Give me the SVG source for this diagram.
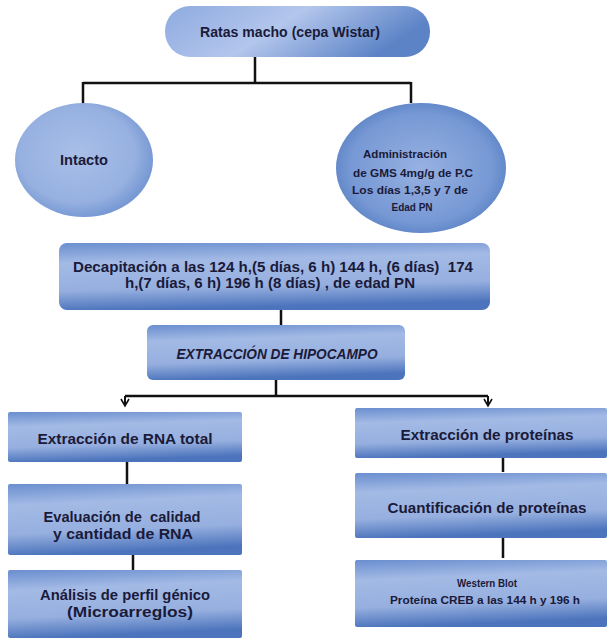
<svg xmlns="http://www.w3.org/2000/svg" width="610" height="638" viewBox="0 0 610 638">
<defs>
<linearGradient id="box" x1="0" y1="0" x2="0.15" y2="1">
<stop offset="0" stop-color="#6a8ecf"/>
<stop offset="0.3" stop-color="#a3bae5"/>
<stop offset="0.7" stop-color="#96afdf"/>
<stop offset="1" stop-color="#4c74bc"/>
</linearGradient>
<linearGradient id="pill" x1="0" y1="0" x2="1" y2="0.3">
<stop offset="0" stop-color="#8eaae0"/>
<stop offset="0.5" stop-color="#b3c6ec"/>
<stop offset="1" stop-color="#5c83c6"/>
</linearGradient>
<radialGradient id="ell1" cx="0.45" cy="0.45" r="0.6">
<stop offset="0" stop-color="#a9bfe9"/>
<stop offset="0.7" stop-color="#96b0e0"/>
<stop offset="1" stop-color="#6d91d0"/>
</radialGradient>
<radialGradient id="ell2" cx="0.5" cy="0.5" r="0.6">
<stop offset="0" stop-color="#97b1e2"/>
<stop offset="0.7" stop-color="#7698d4"/>
<stop offset="1" stop-color="#4d76bd"/>
</radialGradient>
<style>
.t{font-family:"Liberation Sans","DejaVu Sans",sans-serif;font-weight:bold;fill:#1a1a3a;text-anchor:middle;font-size:14px;white-space:pre;}
.s{font-size:10px;}
.i{font-style:italic;}
.c{fill:none;stroke:#111;stroke-width:2.5;}
.a{fill:none;stroke:#111;stroke-width:1.6;}
</style>
</defs>
<g id="connectors">
<path class="c" d="M255,57 V83 M83,83 H411 M83,82 V105 M411,82 V103"/>
<path class="c" d="M281,310 V326"/>
<path class="c" d="M276,380 V396 M125,396 H488"/>
<path class="c" d="M125,396 V404" style="stroke-width:2"/>
<path class="c" d="M488,396 V404" style="stroke-width:2"/>
<path class="a" d="M121,399 L125,406 L129,399"/>
<path class="a" d="M484,399 L488,406 L492,399"/>
<path class="c" d="M127,462 V484 M133,555 V570"/>
<path class="c" d="M503,458 V472 M503,538 V558"/>
</g>
<g id="n-ratas">
<rect x="165" y="6" width="265" height="51" rx="25" fill="url(#pill)"/>
<text class="t" x="290" y="37" textLength="180" lengthAdjust="spacingAndGlyphs">Ratas macho (cepa Wistar)</text>
</g>
<g id="n-intacto">
<ellipse cx="84" cy="160" rx="69" ry="57" fill="url(#ell1)"/>
<text class="t" x="84" y="165" textLength="48" lengthAdjust="spacingAndGlyphs">Intacto</text>
</g>
<g id="n-gms">
<ellipse cx="421" cy="168" rx="85" ry="65" fill="url(#ell2)"/>
<text class="t s" x="405" y="158" textLength="84" lengthAdjust="spacingAndGlyphs">Administración</text>
<text class="t s" x="413" y="177" textLength="120" lengthAdjust="spacingAndGlyphs">de GMS 4mg/g de P.C</text>
<text class="t s" x="410" y="194" textLength="116" lengthAdjust="spacingAndGlyphs">Los días 1,3,5 y 7 de</text>
<text class="t s" x="412" y="211" textLength="41" lengthAdjust="spacingAndGlyphs">Edad PN</text>
</g>
<g id="n-decap">
<rect x="59" y="243" width="431" height="67" rx="8" fill="url(#box)"/>
<text class="t" x="273" y="272" textLength="400" lengthAdjust="spacingAndGlyphs">Decapitación a las 124 h,(5 días, 6 h) 144 h, (6 días)  174</text>
<text class="t" x="270" y="288" textLength="290" lengthAdjust="spacingAndGlyphs">h,(7 días, 6 h) 196 h (8 días) , de edad PN</text>
</g>
<g id="n-hipocampo">
<rect x="147" y="325" width="258" height="55" rx="6" fill="url(#box)"/>
<text class="t i" x="277" y="359" textLength="201" lengthAdjust="spacingAndGlyphs">EXTRACCIÓN DE HIPOCAMPO</text>
</g>
<g id="n-rna">
<rect x="8" y="412" width="234" height="50" rx="2" fill="url(#box)"/>
<text class="t" x="125" y="444" textLength="175" lengthAdjust="spacingAndGlyphs">Extracción de RNA total</text>
</g>
<g id="n-eval">
<rect x="8" y="484" width="234" height="71" rx="2" fill="url(#box)"/>
<text class="t" x="122" y="522" textLength="157" lengthAdjust="spacingAndGlyphs">Evaluación de  calidad</text>
<text class="t" x="123" y="539" textLength="140" lengthAdjust="spacingAndGlyphs">y cantidad de RNA</text>
</g>
<g id="n-perfil">
<rect x="8" y="570" width="234" height="68" rx="2" fill="url(#box)"/>
<text class="t" x="125" y="600" textLength="170" lengthAdjust="spacingAndGlyphs">Análisis de perfil génico</text>
<text class="t" x="130" y="617" textLength="126" lengthAdjust="spacingAndGlyphs">(Microarreglos)</text>
</g>
<g id="n-prot">
<rect x="355" y="408" width="252" height="50" rx="2" fill="url(#box)"/>
<text class="t" x="487" y="440" textLength="173" lengthAdjust="spacingAndGlyphs">Extracción de proteínas</text>
</g>
<g id="n-cuant">
<rect x="355" y="473" width="252" height="65" rx="2" fill="url(#box)"/>
<text class="t" x="487" y="513" textLength="199" lengthAdjust="spacingAndGlyphs">Cuantificación de proteínas</text>
</g>
<g id="n-western">
<rect x="355" y="560" width="252" height="67" rx="2" fill="url(#box)"/>
<text class="t s" x="487" y="587" textLength="60" lengthAdjust="spacingAndGlyphs">Western Blot</text>
<text class="t s" x="485" y="604" textLength="190" lengthAdjust="spacingAndGlyphs">Proteína CREB a las 144 h y 196 h</text>
</g>
</svg>
